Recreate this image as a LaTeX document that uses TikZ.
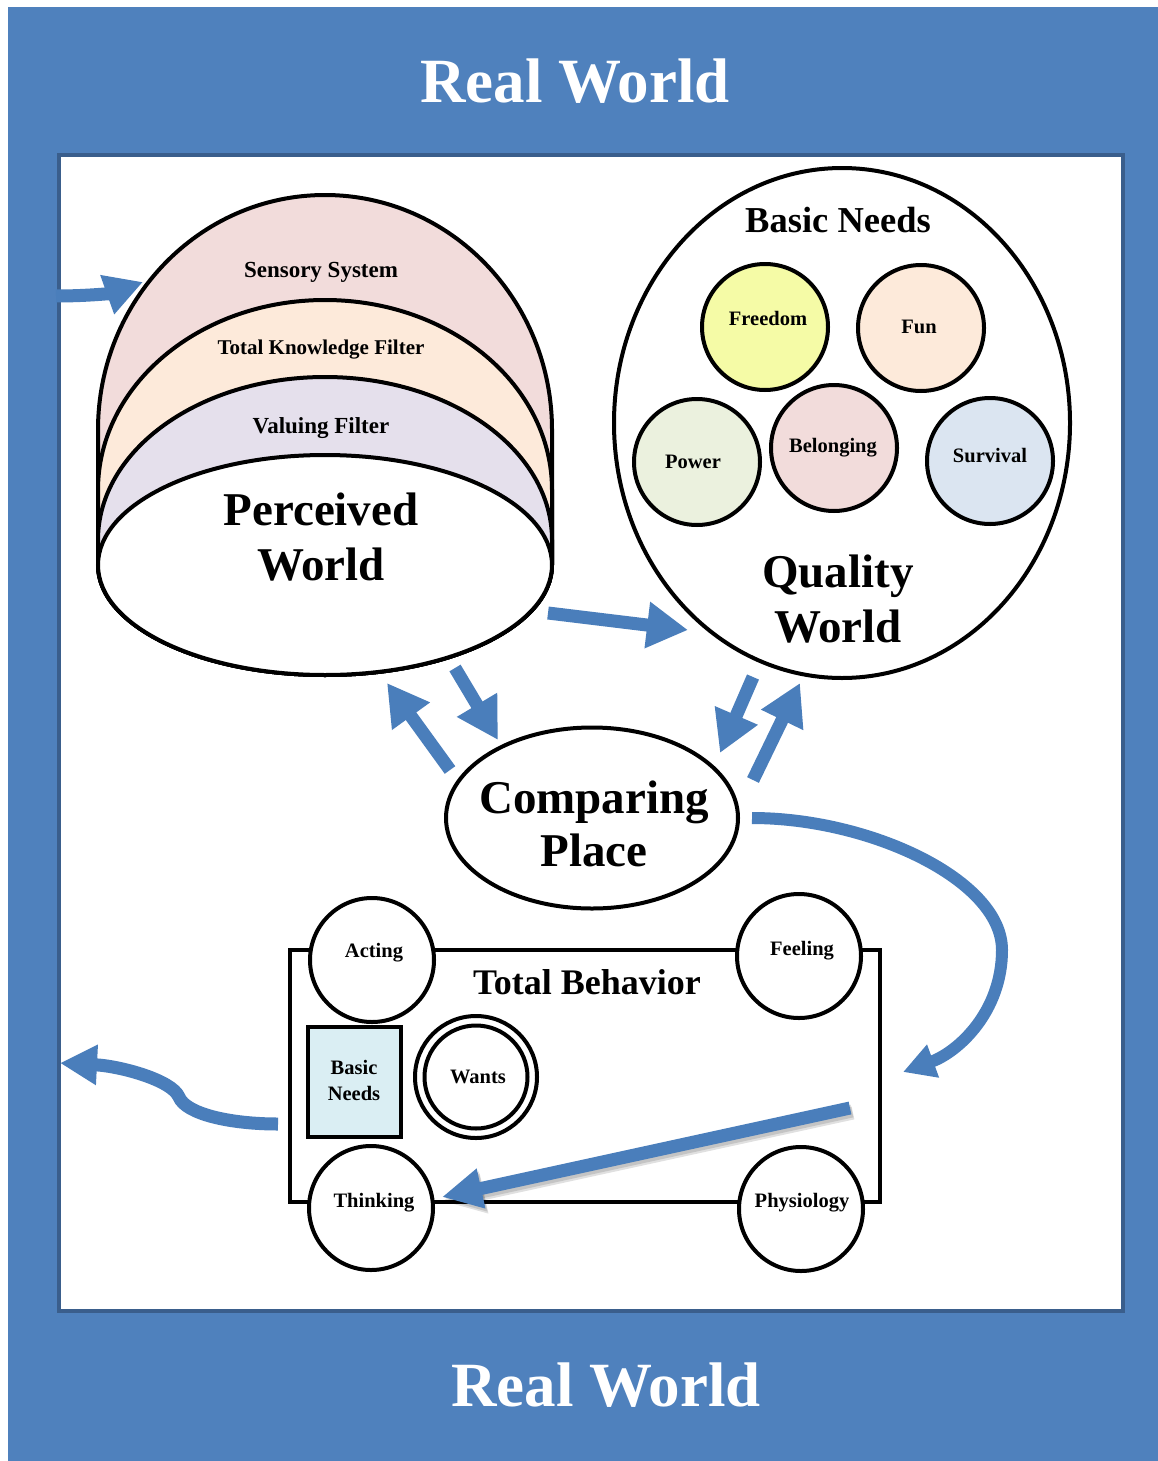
\documentclass[tikz,border=0pt]{standalone}
\usepackage{fontspec}
\setmainfont{Liberation Serif}
\usetikzlibrary{arrows.meta,shapes.geometric,calc}

\definecolor{realblue}{RGB}{79,129,189}
\definecolor{frameblue}{RGB}{58,94,140}
\definecolor{arrowblue}{RGB}{74,126,187}
\definecolor{sensoryfill}{RGB}{242,220,219}
\definecolor{knowfill}{RGB}{253,234,218}
\definecolor{valuefill}{RGB}{229,224,236}
\definecolor{freedomfill}{RGB}{245,251,166}
\definecolor{funfill}{RGB}{253,234,218}
\definecolor{powerfill}{RGB}{235,241,222}
\definecolor{belongfill}{RGB}{242,220,219}
\definecolor{survivalfill}{RGB}{219,229,241}
\definecolor{needsfill}{RGB}{218,238,243}

\newcommand\txtsize[1]{\fontsize{#1}{#1}\selectfont\bfseries}

\tikzset{
  outline/.style={draw=black, line width=4pt},
  needcirc/.style={outline, circle, minimum size=126pt, inner sep=0pt},
  behavcirc/.style={outline, circle, fill=white, minimum size=124pt, inner sep=0pt},
  lbl/.style={anchor=base, inner sep=0pt, font=\txtsize{20.5}},
  midlbl/.style={anchor=base, inner sep=0pt, font=\txtsize{23}},
  head/.style={anchor=base, inner sep=0pt, font=\txtsize{36.5}},
  biglbl/.style={anchor=base, inner sep=0pt, font=\txtsize{47}},
  worldlbl/.style={anchor=base, inner sep=0pt, text=white, font=\txtsize{63}},
  flow/.style={draw=arrowblue, line width=13pt, -{Triangle[length=41pt,width=44pt]}},
  curveflow/.style={draw=arrowblue, line width=12pt, -{Triangle[length=32pt,width=33pt]}},
}

\begin{document}
\begin{tikzpicture}[x=1pt, y=-1pt]
\useasboundingbox (0,0) rectangle (1158,1461);
\fill[white] (0,0) rectangle (1158,1461);

% real world frame
\fill[realblue] (8,7) rectangle (1158,1461);
\filldraw[fill=white, draw=frameblue, line width=4pt] (59,155) rectangle (1123,1311);
\node[worldlbl] (rw-top) at (575,103) {Real World};
\node[worldlbl] (rw-bottom) at (606,1406) {Real World};

% perceived world: stacked filter layers over the base ellipse
\filldraw[outline, fill=sensoryfill] (98,430)
  arc[start angle=180, end angle=0, x radius=227pt, y radius=235pt] -- (552,565)
  arc[start angle=0, end angle=-180, x radius=227pt, y radius=110pt] -- cycle;
\filldraw[outline, fill=knowfill] (98,490)
  arc[start angle=180, end angle=0, x radius=227pt, y radius=190pt] -- (552,565)
  arc[start angle=0, end angle=-180, x radius=227pt, y radius=110pt] -- cycle;
\filldraw[outline, fill=valuefill] (98,540)
  arc[start angle=180, end angle=0, x radius=227pt, y radius=163pt] -- (552,565)
  arc[start angle=0, end angle=-180, x radius=227pt, y radius=110pt] -- cycle;
\node[outline, ellipse, fill=white, minimum width=454pt, minimum height=220pt, inner sep=0pt] (perceived) at (325,565) {};
\node[midlbl] (t-sensory) at (321,277) {Sensory System};
\node[midlbl, font=\txtsize{21}] (t-knowledge) at (321,354) {Total Knowledge Filter};
\node[midlbl] (t-valuing) at (321,433) {Valuing Filter};
\node[biglbl] (t-perceived1) at (321,525) {Perceived};
\node[biglbl] (t-perceived2) at (321,580) {World};

% quality world with the basic needs
\node[outline, ellipse, fill=white, minimum width=456pt, minimum height=510pt, inner sep=0pt] (quality) at (842,423) {};
\node[head] (t-basicneeds) at (838,232) {Basic Needs};
\node[needcirc, fill=freedomfill] (freedom) at (765,327) {};
\node[needcirc, fill=funfill] (fun) at (921,328) {};
\node[needcirc, fill=powerfill] (power) at (697,462) {};
\node[needcirc, fill=belongfill] (belonging) at (834,448) {};
\node[needcirc, fill=survivalfill] (survival) at (990,461) {};
\node[lbl] (t-freedom) at (768,325) {Freedom};
\node[lbl] (t-fun) at (919,333) {Fun};
\node[lbl] (t-power) at (693,468) {Power};
\node[lbl] (t-belonging) at (833,452) {Belonging};
\node[lbl] (t-survival) at (990,462) {Survival};
\node[biglbl] (t-quality1) at (838,587) {Quality};
\node[biglbl] (t-quality2) at (838,642) {World};

% comparing place
\node[outline, ellipse, fill=white, minimum width=292pt, minimum height=181pt, inner sep=0pt] (comparing) at (592,818) {};
\node[biglbl] (t-comparing1) at (594,813) {Comparing};
\node[biglbl] (t-comparing2) at (594,866) {Place};

% total behavior car
\draw[outline] (290,950) rectangle (880,1202);
\node[behavcirc] (acting) at (372,960) {};
\node[behavcirc] (feeling) at (799,956) {};
\node[behavcirc] (thinking) at (371,1208) {};
\node[behavcirc] (physiology) at (801,1209) {};
\node[lbl] (t-acting) at (374,957) {Acting};
\node[lbl] (t-feeling) at (802,955) {Feeling};
\node[lbl] (t-thinking) at (374,1207) {Thinking};
\node[lbl] (t-physiology) at (802,1207) {Physiology};
\node[head, font=\txtsize{36}] (t-behavior) at (587,994) {Total Behavior};
\node[outline, rectangle, fill=needsfill, minimum width=93pt, minimum height=110pt, inner sep=0pt] (needsbox) at (354.5,1082) {};
\node[lbl] (t-basic) at (354,1074) {Basic};
\node[lbl] (t-needs) at (354,1100) {Needs};
\node[outline, circle, minimum size=122pt, inner sep=0pt] (wants-outer) at (476,1077) {};
\node[outline, circle, minimum size=103pt, inner sep=0pt] (wants) at (476,1077) {};
\node[lbl] (t-wants) at (478,1083) {Wants};

% arrow end points
\coordinate (in-s) at (56,296);
\coordinate (in-e) at (143,282);
\coordinate (pq-s) at (548,613);
\coordinate (pq-e) at (688,630);
\coordinate (cp-s) at (450,770);
\coordinate (cp-e) at (387,683);
\coordinate (pc-s) at (455,668);
\coordinate (pc-e) at (498,740);
\coordinate (qc-s) at (753,677);
\coordinate (qc-e) at (720,753);
\coordinate (cq-s) at (753,780);
\coordinate (cq-e) at (800,683);
\coordinate (cb-s) at (752,818);
\coordinate (cb-e) at (903,1072);
\coordinate (bt-s) at (850,1108);
\coordinate (bt-e) at (442,1197);
\coordinate (out-s) at (278,1124);
\coordinate (out-e) at (60,1063);

% arrows
\draw[flow, -{Triangle[length=38pt,width=39pt]}] (in-s) .. controls (90,296) and (112,293) .. (in-e);
\draw[flow] (pq-s) -- (pq-e);
\draw[flow] (cp-s) -- (cp-e);
\draw[flow] (pc-s) -- (pc-e);
\draw[flow] (qc-s) -- (qc-e);
\draw[flow] (cq-s) -- (cq-e);
\draw[curveflow] (cb-s) .. controls (870,818) and (1002,880) .. (1002,950)
  .. controls (1002,1012) and (958,1052) .. (cb-e);
% soft shadow under the arrow into thinking
\draw[flow, draw=black, opacity=0.12, -{Triangle[length=40pt,width=38pt]}] ($(bt-s)+(3,5)$) -- ($(bt-e)+(3,5)$);
\draw[flow, draw=black, opacity=0.12, -{Triangle[length=40pt,width=38pt]}] ($(bt-s)+(2,3)$) -- ($(bt-e)+(2,3)$);
\draw[flow, -{Triangle[length=40pt,width=38pt]}] (bt-s) -- (bt-e);
\draw[flow, -{Triangle[length=37pt,width=38pt]}] (out-s) .. controls (230,1124) and (186,1114) .. (179,1097)
  .. controls (172,1080) and (120,1066) .. (out-e);
\end{tikzpicture}
\end{document}
